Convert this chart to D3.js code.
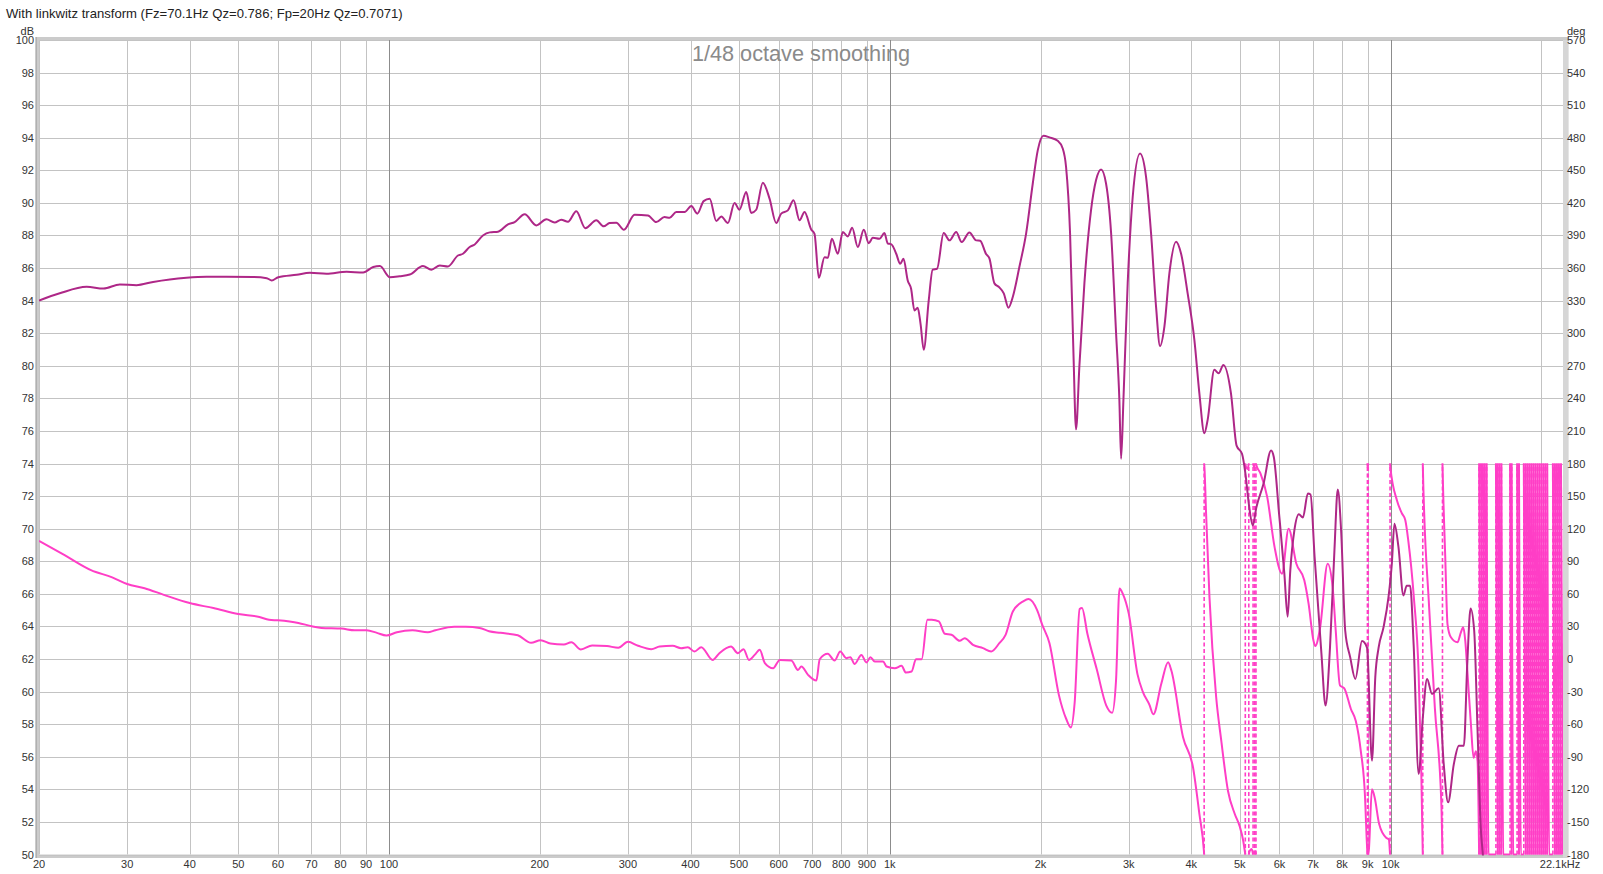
<!DOCTYPE html>
<html><head><meta charset="utf-8">
<script src="https://cdn.jsdelivr.net/npm/d3@7"></script>
<style>
body{margin:0;background:#fff;}
svg{display:block;}
text{font-family:"Liberation Sans",Arial,sans-serif;}
</style>
</head><body>
<svg id="chart" width="1603" height="874"></svg>
<script>
// ---------- data ----------
const titleText = "With linkwitz transform (Fz=70.1Hz Qz=0.786; Fp=20Hz Qz=0.7071)";
const smoothingText = "1/48 octave smoothing";

// magnitude [Hz, dB]
const magnitudeData = [
[20,84.0],[22,84.45],[24.9,84.85],[26.9,84.74],[29,84.99],[31.3,84.95],[33.8,85.15],[36.5,85.3],[39.4,85.4],[43.2,85.46],
[47.4,85.46],[53.6,85.45],[57,85.38],[58.3,85.24],[60.1,85.44],[65.4,85.59],[69.5,85.71],[75,85.65],[82.3,85.77],[88.8,85.73],
[93,86.06],[95.9,86.12],[100.4,85.44],[105,85.5],[110,85.6],[116.9,86.12],[121.5,85.9],[126.3,86.16],[131.1,86.1],[137.3,86.77],
[140.5,86.88],[144.9,87.29],[148.3,87.45],[154,88.0],[158.9,88.19],[165.1,88.23],[172.8,88.68],[178.2,88.82],[186.6,89.3],[196.9,88.62],
[206.2,88.99],[214.1,88.8],[220.8,88.97],[227.7,88.84],[236.6,89.48],[246.6,88.45],[259.4,88.93],[268.3,88.56],[275.7,88.76],[284.4,88.78],
[294.5,88.35],[309.3,89.27],[328.9,89.23],[341.8,88.82],[354.9,89.13],[363.4,89.09],[374.8,89.44],[389.3,89.44],[401.5,89.81],[412.7,89.34],
[424.9,90.11],[436.8,90.26],[450.4,88.89],[460.9,89.17],[475,88.76],[489.8,89.99],[501,89.58],[516.8,90.67],[528.8,89.38],[541.1,89.58],
[557.8,91.24],[575.3,90.26],[593.3,88.76],[607,89.34],[625.8,89.54],[642.4,90.16],[660.4,88.93],[675.7,89.44],[696.8,88.37],[707.4,88.1],
[721.7,85.4],[740.8,86.67],[752.2,86.63],[766.1,87.8],[787.5,86.88],[805.8,88.21],[824.5,87.94],[841.2,88.48],[863.2,87.29],[887.4,88.35],
[907.8,87.53],[925,87.86],[953.7,87.8],[975.9,88.15],[990.8,87.5],[1006,87.47],[1030,86.88],[1049,86.26],[1065,86.57],[1086,85.24],
[1103,84.73],[1120,83.4],[1137,83.56],[1152,82.57],[1169,80.98],[1196,84.0],[1218,85.9],[1243,85.96],[1281,88.15],[1316,87.7],
[1357,88.21],[1392,87.6],[1442,88.19],[1488,87.7],[1515,87.68],[1557,86.86],[1581,86.59],[1618,85.06],[1655,84.81],[1689,84.45],
[1726,83.57],[1761,84.24],[1815,86.08],[1872,88.13],[1930,91.19],[1975,93.24],[2027,94.12],[2084,94.02],[2164,93.81],[2215,93.34],
[2249,92.22],[2291,88.13],[2326,80.97],[2355,76.1],[2391,79.95],[2447,85.06],[2523,89.56],[2582,91.4],[2642,92.05],[2703,91.19],
[2767,88.13],[2831,81.99],[2874,77.9],[2897,74.3],[2928,77.9],[2986,85.06],[3056,90.38],[3160,93.03],[3249,91.6],[3325,88.13],
[3402,83.63],[3465,81.21],[3535,82.4],[3617,85.67],[3730,87.62],[3816,86.9],[3934,84.45],[4058,81.58],[4152,78.31],[4248,75.86],
[4313,76.68],[4448,79.75],[4537,79.54],[4636,80.05],[4801,78.31],[4927,75.1],[5051,74.6],[5130,73.4],[5211,71.54],[5308,70.2],
[5395,71.3],[5578,72.77],[5773,74.8],[5846,74.4],[5989,70.93],[6137,67.24],[6230,64.6],[6307,67.44],[6426,69.9],[6560,70.89],
[6682,70.68],[6838,72.16],[6922,72.1],[7053,68.26],[7278,62.32],[7416,59.14],[7570,62.7],[7726,68.67],[7845,72.4],[7967,69.9],
[8118,63.75],[8308,62.1],[8505,60.78],[8770,63.1],[8974,62.7],[9183,55.76],[9323,60.9],[9466,62.7],[9684,63.96],[9906,65.8],
[10060,67.85],[10180,70.3],[10370,68.88],[10610,65.9],[10770,66.5],[10940,66.5],[11120,62.9],[11380,54.94],[11600,58.4],[11830,60.78],
[12100,59.86],[12480,60.2],[12770,55.56],[13030,53.2],[13380,55.56],[13690,56.68],[14010,56.68],[14230,61.7],[14450,65.1],[14690,63.75],
[14920,57.6],[15150,51.5],[15270,50.2],[15600,47],[17000,45],[19000,44],[22100,43]
];

// phase [Hz, degrees, unwrapped]
const phaseData = [
[20,108.7],[22.5,95.6],[25.4,81.9],[28,75.2],[30,69.1],[32.5,65.2],[35.5,59.1],[40,51.5],[44.6,46.9],[50,41.4],
[55.1,38.7],[57.6,36.2],[60,35.6],[65.9,33.2],[70.1,30.2],[73.3,28.6],[80.4,28],[85.4,26.5],[90.2,26.5],[94.6,24.1],
[98.8,21.6],[103.7,24.7],[111.4,26.5],[119.5,24.7],[123.8,26.5],[135,29.6],[142.3,29.6],[151.6,28.6],[158.4,25.6],[167,24.1],
[180.8,21.9],[192.2,14.9],[200.8,17.3],[210,14.3],[223.4,13.4],[231.3,15.5],[241.6,8.8],[254.5,12.5],[272.5,11.9],[287,10.4],
[300,15.8],[314.3,12.2],[334,9.1],[347,11.5],[368.5,12.2],[383,10],[395,10.9],[407.4,6.9],[420.2,10.9],[442.9,-0.8],
[456.8,5.4],[481.9,11.5],[497.3,5.4],[510.6,9.1],[523.3,-0.8],[537.3,3.8],[550,8.5],[563,-3.8],[584.8,-8.5],[603,-0.8],
[635.9,-1.4],[655.6,-10],[665.8,-6.9],[686.7,-14.6],[713.5,-19.8],[724.6,-0.2],[752,4.8],[775.6,-1.4],[796.4,6.9],[818.6,0.8],
[834,1.7],[850.9,-4.5],[877.6,3.8],[898.1,-3.2],[914.9,1.7],[933.3,-2.3],[969.8,-2.3],[985,-6.9],[1023.5,-8.5],[1055.5,-6.3],
[1077,-12.5],[1105.6,-11.5],[1127.9,-0.2],[1158,-0.2],[1189,36.2],[1213,36.2],[1253,34.6],[1288,23.2],[1328,22.3],[1379,16.8],
[1411,19.2],[1466,13.1],[1535,10],[1594,6.9],[1655,14.6],[1703,22.3],[1761,43.8],[1847,53.1],[1893,55.2],[1969,45],
[2016,31.5],[2084,14.6],[2176,-33],[2250,-55],[2300,-63],[2340,-40],[2394,46],[2420,47],[2481,23.3],[2591,-9.7],
[2705,-42.6],[2780,-49.5],[2830,-20],[2876,65],[2920,60],[3000,42],[3125,-14.4],[3200,-30],[3299,-42],[3360,-50.9],
[3485,-22.8],[3596,-3],[3650,-10.6],[3852,-72],[4032,-99.7],[4152,-142.7],[4240,-177],[4250,-184],[4282,-226],[4349,-303],
[4485,-395],[4591,-435],[4736,-481.5],[4886,-502.7],[5001,-514.5],[5079,-527.3],[5132,-541],[5180,-545],[5230,-537],[5280,-535],
[5322,-541],[5345,-544],[5365,-537],[5400,-542],[5498,-549],[5671,-570.7],[5866,-616.7],[6070,-641.4],[6258,-600],[6486,-632.3],
[6726,-647.5],[6860,-669],[7018,-703.3],[7073,-708],[7228,-692.2],[7490,-632.2],[7662,-653.7],[7772,-693.7],[7925,-744.3],[8083,-747],
[8333,-766],[8524,-777],[8721,-804.5],[8893,-847],[8960,-885],[9000,-904],[9050,-896],[9180,-840],[9300,-848],[9490,-872],
[9800,-884.6],[9920,-886],[9990,-903],[10300,-934],[10540,-946],[10700,-952],[10850,-971],[11130,-1023],[11380,-1094],[11520,-1186],
[11600,-1262],[11940,-1392],[12260,-1485],[12640,-1577],[12700,-1622],[12860,-1706],[12995,-1768],[13200,-1780],[13605,-1784.6],[13820,-1775.4],
[13970,-1770.8],[14100,-1783],[14250,-1814],[14470,-1860],[14650,-1891],[14810,-1885],[14920,-1894],[15030,-1982],[15690,-3780],[16100,-4140],
[16790,-5940],[17200,-6300],[17580,-7380],[17740,-7740],[18210,-8820],[18290,-9180],[20740,-14220],[20900,-14580],[22100,-16740]
];

const gridFreqs = [20,30,40,50,60,70,80,90,100,200,300,400,500,600,700,800,900,1000,2000,3000,4000,5000,6000,7000,8000,9000,10000,20000];
const decadeFreqs = [100,1000,10000];
const xTickValues = [20,30,40,50,60,70,80,90,100,200,300,400,500,600,700,800,900,1000,2000,3000,4000,5000,6000,7000,8000,9000,10000,22100];
const xTickLabels = ["20","30","40","50","60","70","80","90","100","200","300","400","500","600","700","800","900","1k","2k","3k","4k","5k","6k","7k","8k","9k","10k","22.1kHz"];
const dbTicks = d3.range(50, 101, 2);
const degTicks = d3.range(-180, 571, 30);

// ---------- layout ----------
const L = 39, R = 1563, T = 40, B = 854.5;
const magColor = "#ae2787", phaseColor = "#ff3ec6";

const svg = d3.select("#chart");
const x = d3.scaleLog().domain([20, 22100]).range([L, R]);
const yDb = d3.scaleLinear().domain([50, 100]).range([B, T]);
const yDeg = d3.scaleLinear().domain([-180, 570]).range([B, T]);

// frame
svg.append("rect").attr("x", L-3.5).attr("y", T-3).attr("width", R-L+9).attr("height", B-T+6.5).attr("fill", "#cbcbcb");
svg.append("rect").attr("x", R).attr("y", T).attr("width", 5).attr("height", B-T+3).attr("fill", "#d6d6d6");
svg.append("rect").attr("x", L-3.5).attr("y", T-3).attr("width", 1.5).attr("height", B-T+6.5).attr("fill", "#b0b0b0");
svg.append("rect").attr("x", L).attr("y", T).attr("width", R-L).attr("height", B-T).attr("fill", "#fff");

const defs = svg.append("defs");
defs.append("clipPath").attr("id","plotclip").append("rect").attr("x", L).attr("y", T-1).attr("width", R-L).attr("height", B-T+2);

// grid
const grid = svg.append("g");
grid.selectAll("line.h").data(dbTicks).join("line")
  .attr("x1", L).attr("x2", R).attr("y1", d => Math.round(yDb(d))+0.5).attr("y2", d => Math.round(yDb(d))+0.5)
  .attr("stroke", "#c3c3c3").attr("stroke-width", 1);
grid.selectAll("line.v").data(gridFreqs).join("line")
  .attr("x1", d => Math.round(x(d))+0.5).attr("x2", d => Math.round(x(d))+0.5).attr("y1", T).attr("y2", B)
  .attr("stroke", d => decadeFreqs.includes(d) ? "#8c8c8c" : "#c3c3c3").attr("stroke-width", 1);

// axis labels
const axisG = svg.append("g").attr("font-size", 11).attr("fill", "#333");
axisG.selectAll("text.l").data(dbTicks).join("text")
  .attr("x", 34).attr("y", d => yDb(d)+4).attr("text-anchor","end").text(d => d);
axisG.selectAll("text.r").data(degTicks).join("text")
  .attr("x", 1567).attr("y", d => yDeg(d)+4).attr("text-anchor","start").text(d => d);
axisG.selectAll("text.x").data(xTickValues).join("text")
  .attr("x", (d,i) => i === xTickValues.length-1 ? x(d)-3 : x(d)).attr("y", 868).attr("text-anchor","middle")
  .text((d,i) => xTickLabels[i]);
axisG.append("text").attr("x", 34).attr("y", 35).attr("text-anchor","end").text("dB");
axisG.append("text").attr("x", 1567).attr("y", 35).attr("text-anchor","start").text("deg");

svg.append("text").attr("x", 6).attr("y", 18).attr("font-size", 13.1).attr("fill", "#222").text(titleText);
svg.append("text").attr("x", 801).attr("y", 61).attr("font-size", 21.7).attr("fill", "#8a8a8a").attr("text-anchor","middle").text(smoothingText);

const plot = svg.append("g").attr("clip-path", "url(#plotclip)");

// phase with wrapping
function wrapv(p){ return ((p + 180) % 360 + 360) % 360 - 180; }
const pieces = []; const wraps = [];
let cur = [[phaseData[0][0], wrapv(phaseData[0][1])]];
for (let i = 1; i < phaseData.length; i++) {
  const [f0, p0] = phaseData[i-1], [f1, p1] = phaseData[i];
  const lo = Math.min(p0,p1), hi = Math.max(p0,p1);
  let ks = [];
  for (let k = Math.ceil((lo-180)/360); k <= Math.floor((hi-180)/360); k++) {
    const b = 180 + 360*k;
    if (b > lo && b < hi) ks.push(k);
  }
  const desc = p1 < p0;
  if (desc) ks.reverse();
  for (const k of ks) {
    const b = 180 + 360*k;
    const t = (b - p0) / (p1 - p0);
    const fx = Math.pow(10, Math.log10(f0) + t*(Math.log10(f1) - Math.log10(f0)));
    cur.push([fx, desc ? -180 : 180]);
    pieces.push(cur);
    wraps.push(fx);
    cur = [[fx, desc ? 180 : -180]];
  }
  cur.push([f1, wrapv(p1)]);
}
pieces.push(cur);

plot.selectAll("line.wrap").data(wraps).join("line")
  .attr("x1", d => x(d)).attr("x2", d => x(d)).attr("y1", yDeg(-180)).attr("y2", yDeg(180))
  .attr("stroke", phaseColor).attr("stroke-width", 1.6).attr("stroke-dasharray", "4,2.5");

const phaseLine = d3.line().x(d => x(d[0])).y(d => yDeg(d[1])).curve(d3.curveMonotoneX);
plot.selectAll("path.phase").data(pieces).join("path")
  .attr("d", d => phaseLine(d)).attr("fill","none").attr("stroke", phaseColor).attr("stroke-width", 2).attr("stroke-linejoin","round");

const magLine = d3.line().x(d => x(d[0])).y(d => yDb(d[1])).curve(d3.curveMonotoneX);
plot.append("path").datum(magnitudeData).attr("d", magLine)
  .attr("fill","none").attr("stroke", magColor).attr("stroke-width", 2).attr("stroke-linejoin","round");
</script>
</body></html>
